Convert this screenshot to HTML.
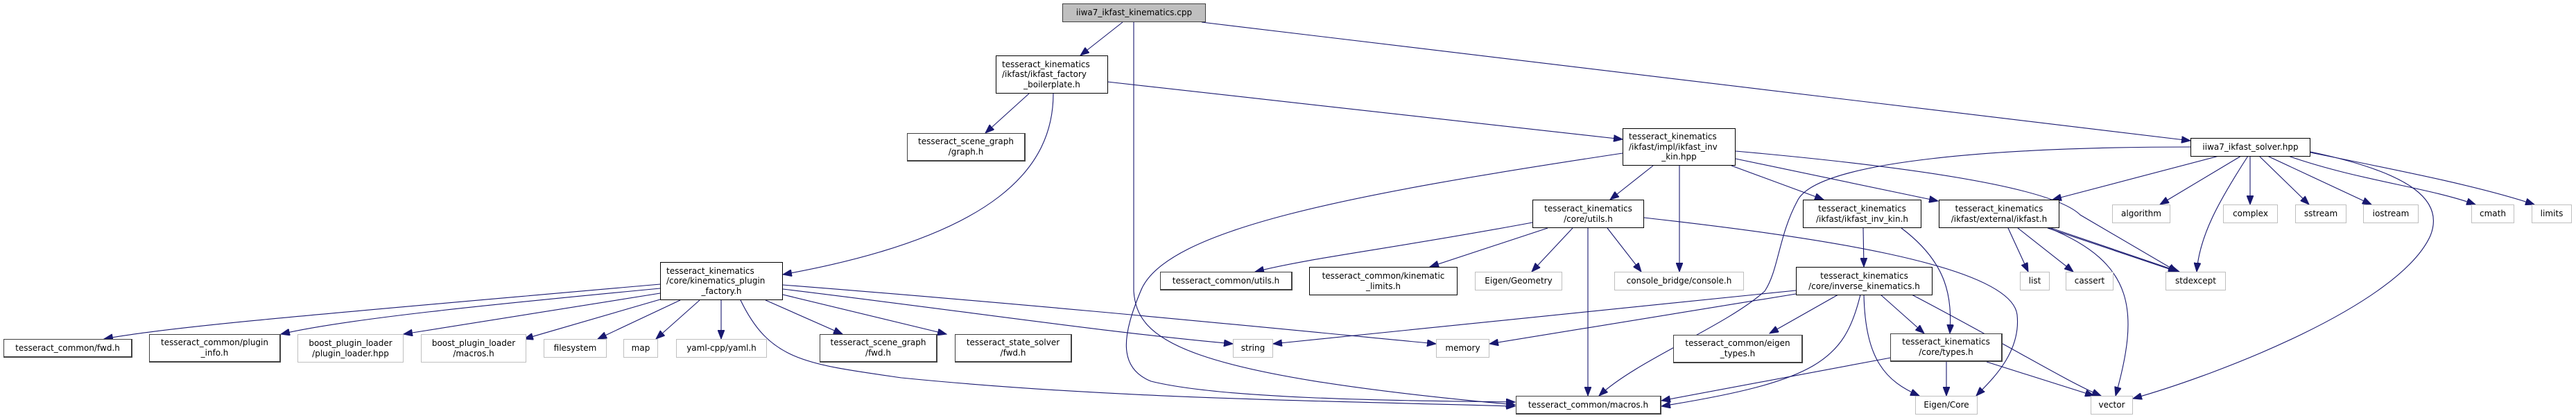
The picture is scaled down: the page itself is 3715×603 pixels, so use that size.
<!DOCTYPE html>
<html><head><meta charset="utf-8">
<style>
html,body{margin:0;padding:0;background:#fff;}
body{width:3715px;height:603px;position:relative;overflow:hidden;font-family:"DejaVu Sans","Liberation Sans",sans-serif;font-size:12px;color:#000;}
.n{position:absolute;box-sizing:border-box;border:1px solid #000;background:#fff;line-height:14.6px;display:flex;flex-direction:column;justify-content:center;padding:0 8px;white-space:nowrap;}
.n.d{border-color:#404040;border-width:1px 2px 2px 1px;}
.n.g{border-color:#bfbfbf;}
.n.c{background:#bfbfbf;border-color:#404040;}
.n span{display:block;text-align:center;}
.n.m span{text-align:left;}
.n.m span:last-child{text-align:center;}
svg{position:absolute;left:0;top:0;}
</style></head><body>
<svg width="3715" height="603" viewBox="0 0 3715 603">
<defs><marker id="a" markerUnits="userSpaceOnUse" markerWidth="14" markerHeight="10" refX="13" refY="5" orient="auto"><path d="M0,0 L13,5 L0,10 z" fill="#191970" stroke="#191970"/></marker></defs>
<g fill="none" stroke="#191970" stroke-width="1.1" marker-end="url(#a)">
<path d="M1619 32 L1558 80"/>
<path d="M1635 32 L1635 420 C1640 490 1700 540 2185 584"/>
<path d="M1733 32 L3159 203"/>
<path d="M1484 135 L1421 192"/>
<path d="M1519 135 C1519 240 1440 340 1129 396"/>
<path d="M1597 118 L2340 201"/>
<path d="M2340 221 C1950 280 1680 330 1645 420 C1620 480 1610 530 1660 550 C1760 575 2000 578 2185 580"/>
<path d="M2384 239 L2322 288"/>
<path d="M2422 239 L2422 392"/>
<path d="M2497 239 L2630 288"/>
<path d="M2503 229 L2795 290"/>
<path d="M2503 218 C2750 240 2960 270 3000 310 L3140 392"/>
<path d="M2371 314 C2600 340 2900 380 2909 454 C2915 510 2870 550 2850 571"/>
<path d="M3159 212 C2900 212 2620 230 2592 290 C2565 340 2565 390 2545 420 C2490 470 2360 520 2306 571"/>
<path d="M3200 225 L2960 288"/>
<path d="M3232 225 L3115 295"/>
<path d="M3242 225 C3200 290 3172 340 3168 392"/>
<path d="M3245 225 L3245 295"/>
<path d="M3258 225 L3330 295"/>
<path d="M3270 225 L3420 295"/>
<path d="M3300 225 C3400 260 3500 270 3570 295"/>
<path d="M3332 220 C3480 250 3580 270 3655 295"/>
<path d="M3332 219 C3480 250 3525 290 3505 340 C3460 440 3200 540 3076 575"/>
<path d="M2896 329 L2925 392"/>
<path d="M2910 329 L2990 392"/>
<path d="M2953 329 L3140 392"/>
<path d="M2958 329 L3143 392"/>
<path d="M2955 329 C3080 380 3085 450 3051 571"/>
<path d="M2687 329 L2688 385"/>
<path d="M2742 329 C2810 380 2815 430 2812 481"/>
<path d="M2590 419 L1836 496"/>
<path d="M2590 424 L2148 496"/>
<path d="M2651 425 L2552 481"/>
<path d="M2683 425 C2660 520 2620 550 2396 586"/>
<path d="M2712 425 L2775 481"/>
<path d="M2688 425 C2690 520 2720 550 2768 571"/>
<path d="M2757 425 C2900 500 2980 550 3030 571"/>
<path d="M2807 522 L2807 571"/>
<path d="M2865 522 L3020 571"/>
<path d="M2727 516 L2396 578"/>
<path d="M2210 321 C2000 360 1900 370 1810 392"/>
<path d="M2232 329 L2062 385"/>
<path d="M2268 329 L2209 392"/>
<path d="M2318 329 L2367 392"/>
<path d="M2290 329 L2290 571"/>
<path d="M952 410 C500 450 250 470 150 489"/>
<path d="M952 416 C700 440 500 460 405 482"/>
<path d="M952 423 L582 482"/>
<path d="M952 432 L756 489"/>
<path d="M981 433 L862 489"/>
<path d="M1009 433 L946 489"/>
<path d="M1040 433 L1040 489"/>
<path d="M1104 433 L1215 482"/>
<path d="M1129 425 L1365 482"/>
<path d="M1129 417 C1400 450 1600 480 1778 496"/>
<path d="M1129 411 C1500 440 1800 470 2071 496"/>
<path d="M1068 433 C1110 520 1160 525 1300 545 C1600 575 1900 578 2185 586"/>
</g>
</svg>
<div class="n c" style="left:1532px;top:5px;width:207px;height:27px"><span>iiwa7_ikfast_kinematics.cpp</span></div>
<div class="n m" style="left:1436px;top:80px;width:162px;height:55px"><span>tesseract_kinematics</span><span>/ikfast/ikfast_factory</span><span>_boilerplate.h</span></div>
<div class="n d" style="left:1308px;top:192px;width:171px;height:41px"><span>tesseract_scene_graph</span><span>/graph.h</span></div>
<div class="n m" style="left:952px;top:378px;width:177px;height:55px"><span>tesseract_kinematics</span><span>/core/kinematics_plugin</span><span>_factory.h</span></div>
<div class="n d" style="left:5px;top:489px;width:186px;height:27px"><span>tesseract_common/fwd.h</span></div>
<div class="n d" style="left:215px;top:482px;width:190px;height:41px"><span>tesseract_common/plugin</span><span>_info.h</span></div>
<div class="n g" style="left:429px;top:482px;width:153px;height:41px"><span>boost_plugin_loader</span><span>/plugin_loader.hpp</span></div>
<div class="n g" style="left:607px;top:482px;width:152px;height:41px"><span>boost_plugin_loader</span><span>/macros.h</span></div>
<div class="n g" style="left:784px;top:489px;width:91px;height:27px"><span>filesystem</span></div>
<div class="n g" style="left:899px;top:489px;width:50px;height:27px"><span>map</span></div>
<div class="n g" style="left:975px;top:489px;width:131px;height:27px"><span>yaml-cpp/yaml.h</span></div>
<div class="n d" style="left:1182px;top:482px;width:170px;height:41px"><span>tesseract_scene_graph</span><span>/fwd.h</span></div>
<div class="n d" style="left:1377px;top:482px;width:169px;height:41px"><span>tesseract_state_solver</span><span>/fwd.h</span></div>
<div class="n g" style="left:1778px;top:489px;width:58px;height:27px"><span>string</span></div>
<div class="n g" style="left:2071px;top:489px;width:77px;height:27px"><span>memory</span></div>
<div class="n d" style="left:2186px;top:571px;width:210px;height:27px"><span>tesseract_common/macros.h</span></div>
<div class="n m" style="left:2340px;top:185px;width:163px;height:54px"><span>tesseract_kinematics</span><span>/ikfast/impl/ikfast_inv</span><span>_kin.hpp</span></div>
<div class="n" style="left:2210px;top:288px;width:161px;height:41px"><span>tesseract_kinematics</span><span>/core/utils.h</span></div>
<div class="n d" style="left:1673px;top:392px;width:191px;height:27px"><span>tesseract_common/utils.h</span></div>
<div class="n" style="left:1888px;top:385px;width:214px;height:41px"><span>tesseract_common/kinematic</span><span>_limits.h</span></div>
<div class="n g" style="left:2127px;top:392px;width:126px;height:27px"><span>Eigen/Geometry</span></div>
<div class="n g" style="left:2328px;top:392px;width:187px;height:27px"><span>console_bridge/console.h</span></div>
<div class="n" style="left:2590px;top:385px;width:197px;height:41px"><span>tesseract_kinematics</span><span>/core/inverse_kinematics.h</span></div>
<div class="n d" style="left:2413px;top:483px;width:187px;height:41px"><span>tesseract_common/eigen</span><span>_types.h</span></div>
<div class="n d" style="left:2726px;top:481px;width:162px;height:41px"><span>tesseract_kinematics</span><span>/core/types.h</span></div>
<div class="n g" style="left:2762px;top:571px;width:90px;height:27px"><span>Eigen/Core</span></div>
<div class="n g" style="left:3015px;top:571px;width:61px;height:27px"><span>vector</span></div>
<div class="n" style="left:3159px;top:199px;width:173px;height:27px"><span>iiwa7_ikfast_solver.hpp</span></div>
<div class="n" style="left:2600px;top:288px;width:171px;height:41px"><span>tesseract_kinematics</span><span>/ikfast/ikfast_inv_kin.h</span></div>
<div class="n" style="left:2796px;top:288px;width:174px;height:41px"><span>tesseract_kinematics</span><span>/ikfast/external/ikfast.h</span></div>
<div class="n g" style="left:3046px;top:295px;width:84px;height:27px"><span>algorithm</span></div>
<div class="n g" style="left:3206px;top:295px;width:79px;height:27px"><span>complex</span></div>
<div class="n g" style="left:3310px;top:295px;width:74px;height:27px"><span>sstream</span></div>
<div class="n g" style="left:3408px;top:295px;width:80px;height:27px"><span>iostream</span></div>
<div class="n g" style="left:3564px;top:295px;width:62px;height:27px"><span>cmath</span></div>
<div class="n g" style="left:3651px;top:295px;width:58px;height:27px"><span>limits</span></div>
<div class="n g" style="left:2913px;top:392px;width:43px;height:27px"><span>list</span></div>
<div class="n g" style="left:2979px;top:392px;width:69px;height:27px"><span>cassert</span></div>
<div class="n g" style="left:3123px;top:392px;width:87px;height:27px"><span>stdexcept</span></div>
</body></html>
